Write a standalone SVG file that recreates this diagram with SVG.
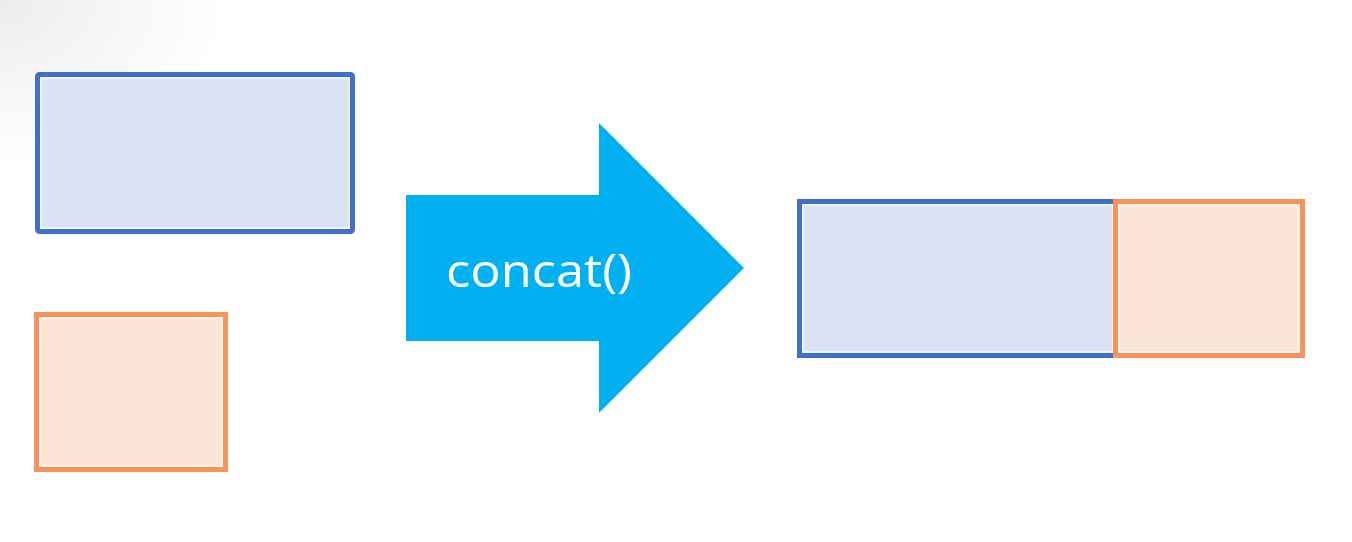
<svg xmlns="http://www.w3.org/2000/svg" width="1352" height="542" viewBox="0 0 1352 542">
<defs>
<radialGradient id="shade" cx="0" cy="0" r="1" gradientUnits="userSpaceOnUse" gradientTransform="translate(0,0) scale(230,170)">
<stop offset="0" stop-color="#ececec"/>
<stop offset="0.5" stop-color="#f6f6f6"/>
<stop offset="1" stop-color="#ffffff"/>
</radialGradient>
</defs>
<style>
.blue{fill:#DAE3F3;stroke:#4170C6;stroke-width:5}
.orange{fill:#FBE5D6;stroke:#F8915A;stroke-width:5}
.inner{fill:none;stroke:#ffffff;stroke-width:1.5;opacity:0.8}
.arrow{fill:#00B0F0}
.label{font-family:"Open Sans","Liberation Sans",sans-serif;font-size:46px;fill:#ffffff}
</style>
<rect x="0" y="0" width="1352" height="542" fill="#ffffff"/>
<rect x="0" y="0" width="240" height="180" fill="url(#shade)"/>
<g id="blue-left">
<rect class="blue" x="37.5" y="74.5" width="315" height="157" rx="2"/>
<rect class="inner" x="41" y="78" width="308" height="150"/>
</g>
<g id="orange-left">
<rect class="orange" x="36.5" y="314.5" width="189" height="155"/>
<rect class="inner" x="40" y="318" width="182" height="148"/>
</g>
<g id="concat-arrow">
<polygon class="arrow" points="406,195 599,195 599,123 744,268 599,413 599,341 406,341"/>
<text class="label" x="446" y="287" textLength="186" lengthAdjust="spacingAndGlyphs">concat()</text>
</g>
<g id="blue-right">
<rect class="blue" x="799.5" y="201.5" width="316" height="154"/>
<rect class="inner" x="803" y="205" width="310" height="147"/>
</g>
<g id="orange-right">
<rect class="orange" x="1115.5" y="201.5" width="187" height="154"/>
<rect class="inner" x="1119" y="205" width="180" height="147"/>
</g>
<g id="connectors"></g>
</svg>
